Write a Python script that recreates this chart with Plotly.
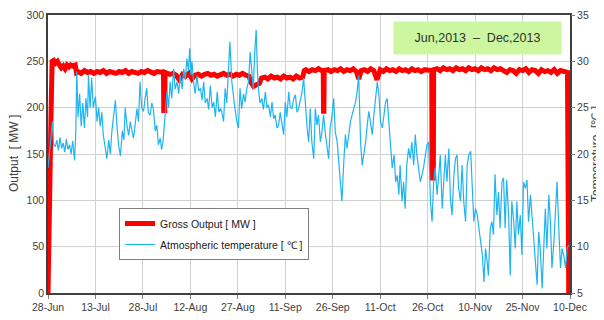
import plotly.graph_objects as go

# ---------------- data (days since 28-Jun-2013) ----------------
tick_days = [0, 15, 30, 45, 60, 75, 90, 105, 120, 135, 150, 165]
tick_labels = ["28-Jun", "13-Jul", "28-Jul", "12-Aug", "27-Aug", "11-Sep",
               "26-Sep", "11-Oct", "26-Oct", "10-Nov", "25-Nov", "10-Dec"]

gross_day = [0, 0.3, 0.6, 1.0, 1.3, 1.8, 2.4, 3.0, 3.6, 4.2, 4.8, 5.4, 6.0, 6.6, 7.2, 7.8, 8.6, 9.0,
             9.5, 10.5, 11.5, 12.5, 13.5, 14.5, 15.5, 16.5, 17.5, 18.5, 19.5, 20.5, 21.5, 22.5,
             23.5, 24.5, 25.5, 26.5, 27.5, 28.5, 29.5, 30.5, 31.5, 32.5, 33.5, 34.5, 35.5, 36.5,
             36.6, 36.9, 37.0, 38.5, 39.5, 40.5, 41.5, 42.5, 43.5, 44.5, 45.5, 46.5, 47.5, 48.5,
             49.5, 50.5, 51.5, 52.5, 53.5, 54.5, 55.5, 56.5, 57.5, 58.5, 59.5, 60.5, 61.5, 62.5,
             63.5, 64.2, 65.0, 66.0, 66.8, 67.5, 68.5, 69.5, 70.5, 71.5, 72.5, 73.5, 74.5, 75.5,
             76.5, 77.5, 78.5, 79.5, 80.5, 81.0, 81.5, 82.5, 83.5, 84.5, 85.5, 86.5, 87.0, 87.1,
             87.2, 87.3, 88.5, 89.5, 90.5, 91.5, 92.5, 93.5, 94.5, 95.5, 96.5, 97.5, 98.2, 99.0,
             100.0, 101.0, 102.0, 103.0, 104.0, 105.0, 106.0, 107.0, 108.0, 109.0, 110.0, 111.0,
             112.0, 113.0, 114.0, 115.0, 116.0, 117.0, 118.0, 119.0, 120.0, 121.3, 121.4, 121.8,
             121.9, 123.0, 124.0, 125.0, 126.0, 127.0, 128.0, 129.0, 130.0, 131.0, 132.0, 133.0,
             134.0, 135.0, 136.0, 137.0, 138.0, 139.0, 140.0, 141.0, 142.0, 143.0, 144.0, 145.0,
             146.0, 147.0, 148.0, 149.0, 150.0, 151.0, 152.0, 153.0, 154.0, 155.0, 156.0, 157.0,
             158.0, 159.0, 160.0, 161.0, 162.0, 163.0, 164.0, 164.2, 164.6]
gross_mw = [0, 85, 150, 200, 250, 251, 248, 250, 246, 243, 245, 242, 246, 244, 246, 245, 246, 238,
            239, 237, 240, 238, 239, 237, 239, 238, 240, 237, 239, 238, 237, 239, 238, 240,
            237, 239, 238, 237, 239, 238, 240, 238, 237, 239, 238, 238,
            197, 197, 238, 236, 237, 235, 230, 236, 234, 237, 231, 235, 236, 234,
            236, 237, 235, 236, 234, 236, 237, 235, 236, 234, 236, 235, 237, 235,
            234, 227, 223, 225, 226, 232, 233, 231, 234, 232, 233, 231, 234, 232,
            233, 231, 234, 232, 233, 240, 241, 239, 241, 240, 242, 240, 240, 196,
            196, 240, 241, 239, 241, 240, 242, 239, 241, 240, 242, 239, 231, 240,
            241, 239, 242, 240, 230, 241, 239, 242, 240, 241, 239, 242,
            240, 241, 239, 242, 240, 241, 239, 241, 240, 240, 124, 124,
            241, 242, 240, 243, 241, 242, 240, 243, 241, 242, 240, 243,
            241, 242, 240, 243, 241, 242, 240, 243, 241, 242, 240, 238,
            241, 240, 237, 241, 240, 242, 238, 241, 240, 237, 241, 239,
            240, 238, 241, 237, 240, 239, 238, 238, 0]

temp_day = [0.0, 0.5, 1.0, 1.4, 1.8, 2.3, 2.8, 3.3, 3.8, 4.3, 4.8, 5.3, 5.8, 6.3, 6.8, 7.3, 7.8, 8.4,
            8.8, 9.1, 9.5, 10.0, 10.5, 11.0, 11.5, 12.0, 12.5, 12.8, 13.3, 13.8, 14.3, 15.0, 15.5,
            16.0, 16.5, 17.0, 17.5, 18.0, 18.6, 19.2, 19.7, 20.2, 20.7, 21.3, 21.8, 22.3, 22.9,
            23.5, 24.0, 24.4, 25.0, 25.5, 26.0, 26.5,
            27.0, 27.5, 28.1, 28.6, 29.1, 29.6, 30.2, 30.7, 31.2, 31.7, 32.3, 32.8, 33.3, 33.9,
            34.4, 34.9, 35.5, 35.9, 36.3, 36.7, 37.1, 37.6, 38.1, 38.6, 39.1, 39.7, 40.2, 40.8,
            41.3, 41.8, 42.4, 42.9, 43.4, 43.9, 44.4, 44.8, 45.2, 45.5, 46.0, 46.5, 47.1, 47.6,
            48.2, 48.7, 49.2, 49.7, 50.3, 50.8, 51.3, 51.9, 52.4, 52.9, 53.5, 54.0, 54.5,
            54.9, 55.5, 56.0, 56.5, 57.0, 57.5, 58.1, 58.6, 59.1, 59.7, 60.2, 60.7, 61.2, 61.8,
            62.3, 62.8, 63.4, 63.9, 64.4, 64.9, 65.3, 65.8, 66.2, 66.5, 67.0, 67.6, 68.1, 68.7,
            69.2, 69.7, 70.3, 70.8, 71.3, 71.8, 72.4, 72.9, 73.4, 73.9, 74.5, 75.0, 75.5, 76.1,
            76.6, 77.1, 77.7, 78.2, 78.7, 79.2, 79.8, 80.3, 80.8, 81.4, 81.9, 82.4,
            82.9, 83.4, 84.0, 84.5, 85.0, 85.5, 86.1, 86.6, 87.1, 87.7, 88.2, 88.7, 89.2, 89.8,
            90.3, 90.8, 91.4, 91.9, 92.4, 92.9, 93.5, 94.0, 94.5, 95.1, 95.6, 96.1, 96.7, 97.2,
            97.7, 98.2, 98.8, 99.3, 99.8, 100.4, 100.9, 101.4, 101.9, 102.5, 103.0, 103.5, 104.1,
            104.6, 105.1, 105.7, 106.2, 106.7, 107.2, 107.8, 108.3, 108.8, 109.4, 109.9, 110.4,
            110.9, 111.3, 111.9, 112.4, 112.9, 113.4, 114.0, 114.5, 115.0, 115.6, 116.1, 116.6,
            117.2, 117.7, 118.2, 118.7, 119.3, 119.8, 120.3, 120.9, 121.4, 121.9, 122.4, 123.0,
            123.5, 124.0, 124.6, 125.1, 125.6, 126.1, 126.7, 127.2, 127.7, 128.3, 128.8, 129.3,
            129.8, 130.4, 130.9, 131.4, 132.0, 132.5, 133.0, 133.6, 134.1, 134.6, 135.1, 135.7,
            136.2, 136.7, 137.3, 137.8, 138.3, 138.8, 139.2, 139.8, 140.3, 140.8, 141.3, 141.9,
            142.4, 142.9, 143.5, 144.0, 144.5, 145.0, 145.6, 146.1, 146.6, 147.2, 147.7, 148.2,
            148.7, 149.3, 149.8, 150.3, 150.9, 151.4, 151.9, 152.5, 153.0, 153.5, 154.0, 154.6,
            155.1, 155.6, 156.2, 156.7, 157.2, 157.7, 158.3, 158.8, 159.3, 159.9, 160.4, 160.9,
            161.5, 162.0, 162.5, 163.0, 163.6, 164.1, 164.6]
temp_c = [18.5, 20.5, 22.0, 23.5, 21.0, 20.8, 21.5, 20.4, 21.8, 20.6, 21.2, 20.2, 21.6, 20.5, 21.0, 20.0, 21.4, 19.3,
          22.5, 28.9, 24.0, 26.5, 23.0, 25.5, 22.8, 26.0, 24.0, 28.5, 25.0, 28.2, 25.0, 26.2, 23.5,
          25.0, 23.0, 24.5, 22.0, 21.0, 19.5, 21.5, 20.0, 22.5, 24.0, 25.8, 23.0, 21.0, 19.8,
          22.5, 21.5, 25.0, 23.0, 22.0, 23.5, 22.5,
          21.7, 23.0, 24.9, 23.5, 27.8, 25.0, 24.6, 26.0, 27.1, 24.5, 24.2, 25.5, 24.9, 22.5,
          23.1, 21.0, 21.7, 20.5, 21.2, 22.8, 24.2, 26.7, 25.0, 27.8, 26.0, 29.2, 27.0, 27.8,
          26.5, 28.5, 27.0, 29.2, 28.0, 30.3, 29.0, 31.4, 28.5, 30.0, 27.8, 26.5, 28.5, 26.8,
          27.1, 25.8, 27.8, 25.5, 26.0, 24.8, 27.4, 25.0, 25.6, 24.0, 26.7, 24.5, 24.9,
          24.6, 23.5, 27.1, 25.5, 29.2, 32.1, 27.8, 26.0, 24.9, 23.5, 22.8, 27.1, 24.9, 26.5,
          25.6, 27.0, 27.8, 31.0, 28.5, 27.0, 30.7, 33.4, 29.0, 27.1, 25.5, 26.0, 24.8, 26.7,
          25.0, 25.3, 24.0, 25.6, 23.8, 24.2, 22.8, 23.1, 24.5, 23.5, 22.1, 25.6, 24.0, 26.7,
          25.0, 24.9, 26.0, 26.4, 24.5, 24.9, 26.0, 26.7, 28.2, 24.9, 22.8, 21.3,
          24.9, 21.3, 19.5, 24.9, 23.1, 24.2, 21.3, 22.4, 24.2, 22.1, 21.0, 19.5, 22.8, 24.2,
          26.0, 22.4, 21.3, 18.8, 16.3, 14.9, 19.2, 22.1, 20.6, 22.4, 23.5, 24.2, 24.9, 25.6,
          26.7, 28.5, 21.3, 18.8, 19.9, 21.3, 23.1, 24.6, 23.5, 22.1, 24.2, 25.6, 27.8,
          26.4, 23.5, 22.8, 24.2, 25.6, 26.0, 23.1, 20.6, 18.5, 19.9, 17.0, 17.7,
          15.6, 18.8, 14.9, 17.0, 14.1, 18.8, 20.6, 19.5, 21.3, 18.8, 22.1, 19.9,
          18.1, 17.0, 17.7, 18.5, 19.9, 21.0, 21.3, 14.9, 12.7, 17.0, 18.5, 15.6,
          17.7, 19.9, 14.1, 17.7, 19.9, 17.0, 20.6, 15.2, 13.4, 17.7, 19.5, 19.9,
          16.3, 14.9, 18.8, 14.9, 12.7, 18.8, 19.9, 20.3, 17.0, 12.7, 14.1, 13.4,
          12.0, 10.9, 9.1, 6.2, 9.8, 8.4, 6.9, 12.0, 12.7, 11.3, 17.8, 13.4,
          15.9, 12.0, 17.0, 17.4, 12.0, 17.2, 13.4, 6.9, 14.9, 12.7, 9.8, 14.9,
          11.3, 13.4, 9.1, 17.0, 16.3, 17.2, 12.7, 15.6, 13.4, 11.3, 9.5, 5.9,
          11.6, 9.8, 5.5, 9.8, 14.1, 9.8, 15.6, 12.7, 7.7, 10.5, 13.4, 17.0,
          11.6, 7.7, 9.8, 9.1, 7.7, 9.8, 10.2]

FONT_N = "Liberation Sans, Arial, sans-serif"
FONT_R = "Liberation Sans, Arial, sans-serif"
TICK_SIZE = 10.5

fig = go.Figure()
fig.add_trace(go.Scatter(x=gross_day, y=gross_mw, mode="lines", name="Gross Output [ MW ]",
                         line=dict(color="#FF0000", width=5), legendgroup="a", yaxis="y"))
fig.add_trace(go.Scatter(x=temp_day, y=temp_c, mode="lines", name="Atmospheric temperature [ \u2103 ]",
                         line=dict(color="#1FB4F0", width=1.2), legendgroup="b", yaxis="y2"))

# page has an 8px body margin, so the figure is drawn 596x312 to fit the 604x320 window
fig.update_layout(
    width=596, height=312,
    margin=dict(l=40, r=34, t=7, b=27, autoexpand=False),
    paper_bgcolor="white", plot_bgcolor="white",
    font=dict(family=FONT_N, size=11, color="#404040"),
    showlegend=True,
    legend=dict(x=0.136, y=0.3058, xanchor="left", yanchor="top",
                bgcolor="white", bordercolor="#808080", borderwidth=1,
                font=dict(family=FONT_N, size=10.5, color="#202020"),
                tracegroupgap=2, itemwidth=30),
    xaxis=dict(range=[0, 165], tickmode="array", tickvals=tick_days, ticktext=tick_labels,
               showgrid=True, gridcolor="#D0D0D0", gridwidth=1, automargin=False,
               showline=True, linecolor="#404040", linewidth=1.5, mirror=True,
               ticks="outside", ticklen=4, tickcolor="#808080",
               tickfont=dict(family=FONT_N, size=TICK_SIZE, color="#404040"), zeroline=False),
    yaxis=dict(range=[0, 300], dtick=50, showgrid=True, gridcolor="#D0D0D0", gridwidth=1,
               showline=True, linecolor="#404040", linewidth=1.5, mirror=True, automargin=False,
               ticks="", tickfont=dict(family=FONT_N, size=TICK_SIZE, color="#404040"),
               zeroline=False),
    yaxis2=dict(range=[5, 35], dtick=5, overlaying="y", side="right", showgrid=False,
                showline=False, ticks="outside", ticklen=4, tickcolor="#808080", automargin=False,
                tickfont=dict(family=FONT_N, size=TICK_SIZE, color="#404040"), zeroline=False),
    annotations=[
        dict(text="Output  [ MW ]", xref="paper", yref="paper", x=-0.0651, y=0.5,
             xanchor="center", yanchor="middle",
             textangle=-90, showarrow=False, font=dict(family=FONT_R, size=12, color="#404040")),
        dict(text="Temperature  [\u2103 ]", xref="paper", yref="paper", x=1.0498, y=0.5,
             xanchor="center", yanchor="middle",
             textangle=-90, showarrow=False, font=dict(family=FONT_R, size=12, color="#404040")),
        dict(text="Jun,2013  \u2013  Dec,2013", xref="paper", yref="paper", x=0.8228, y=0.917,
             xanchor="center", yanchor="middle",
             width=165, height=30, bgcolor="#CCF7A0", showarrow=False,
             font=dict(family=FONT_N, size=12.5, color="#303030")),
    ],
)

fig.write_html("out.html")
